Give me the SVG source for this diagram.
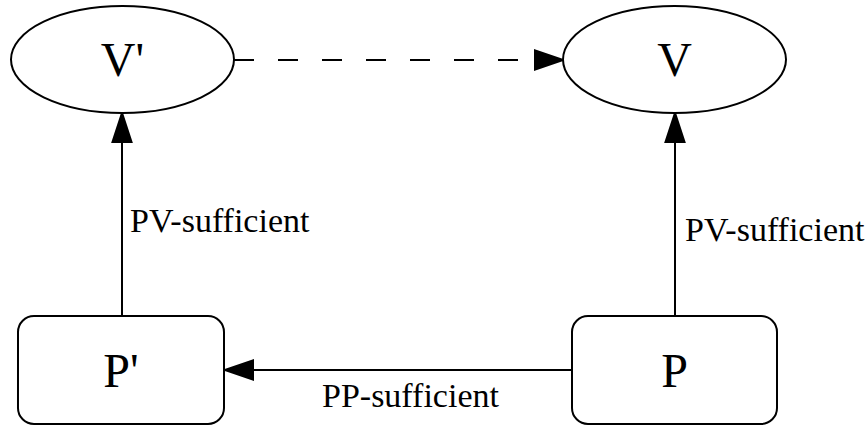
<svg xmlns="http://www.w3.org/2000/svg" width="867" height="427" viewBox="0 0 867 427">
<style>
.shape{fill:#fff;stroke:#000;stroke-width:2}
.edge{fill:none;stroke:#000;stroke-width:2}
.node{font-family:"Liberation Serif","Times New Roman",serif;font-size:48px;text-anchor:middle;fill:#000}
.lbl{font-family:"Liberation Serif","Times New Roman",serif;font-size:34px;fill:#000}
.head{fill:#000;stroke:#000;stroke-width:2}
</style>
<g id="edges">
<line class="edge" x1="234" y1="60" x2="535" y2="60" stroke-dasharray="20,24"/>
<polygon class="head" points="563,60 535,50.5 535,69.5"/>
<line class="edge" x1="122" y1="316" x2="122" y2="142"/>
<polygon class="head" points="122,113 112.5,142 131.5,142"/>
<text class="lbl" x="130" y="232">PV-sufficient</text>
<line class="edge" x1="675" y1="316" x2="675" y2="142"/>
<polygon class="head" points="675,113 665.5,142 684.5,142"/>
<text class="lbl" x="685" y="241">PV-sufficient</text>
<line class="edge" x1="572" y1="370" x2="253" y2="370"/>
<polygon class="head" points="225,370 253,360.5 253,379.5"/>
<text class="lbl" x="322" y="407">PP-sufficient</text>
</g>
<g id="node-Vp">
<ellipse class="shape" cx="122.5" cy="59.5" rx="111.5" ry="53.5"/>
<text class="node" x="122.5" y="76">V'</text>
</g>
<g id="node-V">
<ellipse class="shape" cx="674.5" cy="59.5" rx="111.5" ry="53.5"/>
<text class="node" x="674.5" y="76">V</text>
</g>
<g id="node-Pp">
<rect class="shape" x="18" y="316" width="206" height="108" rx="16" ry="16"/>
<text class="node" x="121" y="387">P'</text>
</g>
<g id="node-P">
<rect class="shape" x="572" y="316" width="205" height="108" rx="16" ry="16"/>
<text class="node" x="674.5" y="387">P</text>
</g>
</svg>
